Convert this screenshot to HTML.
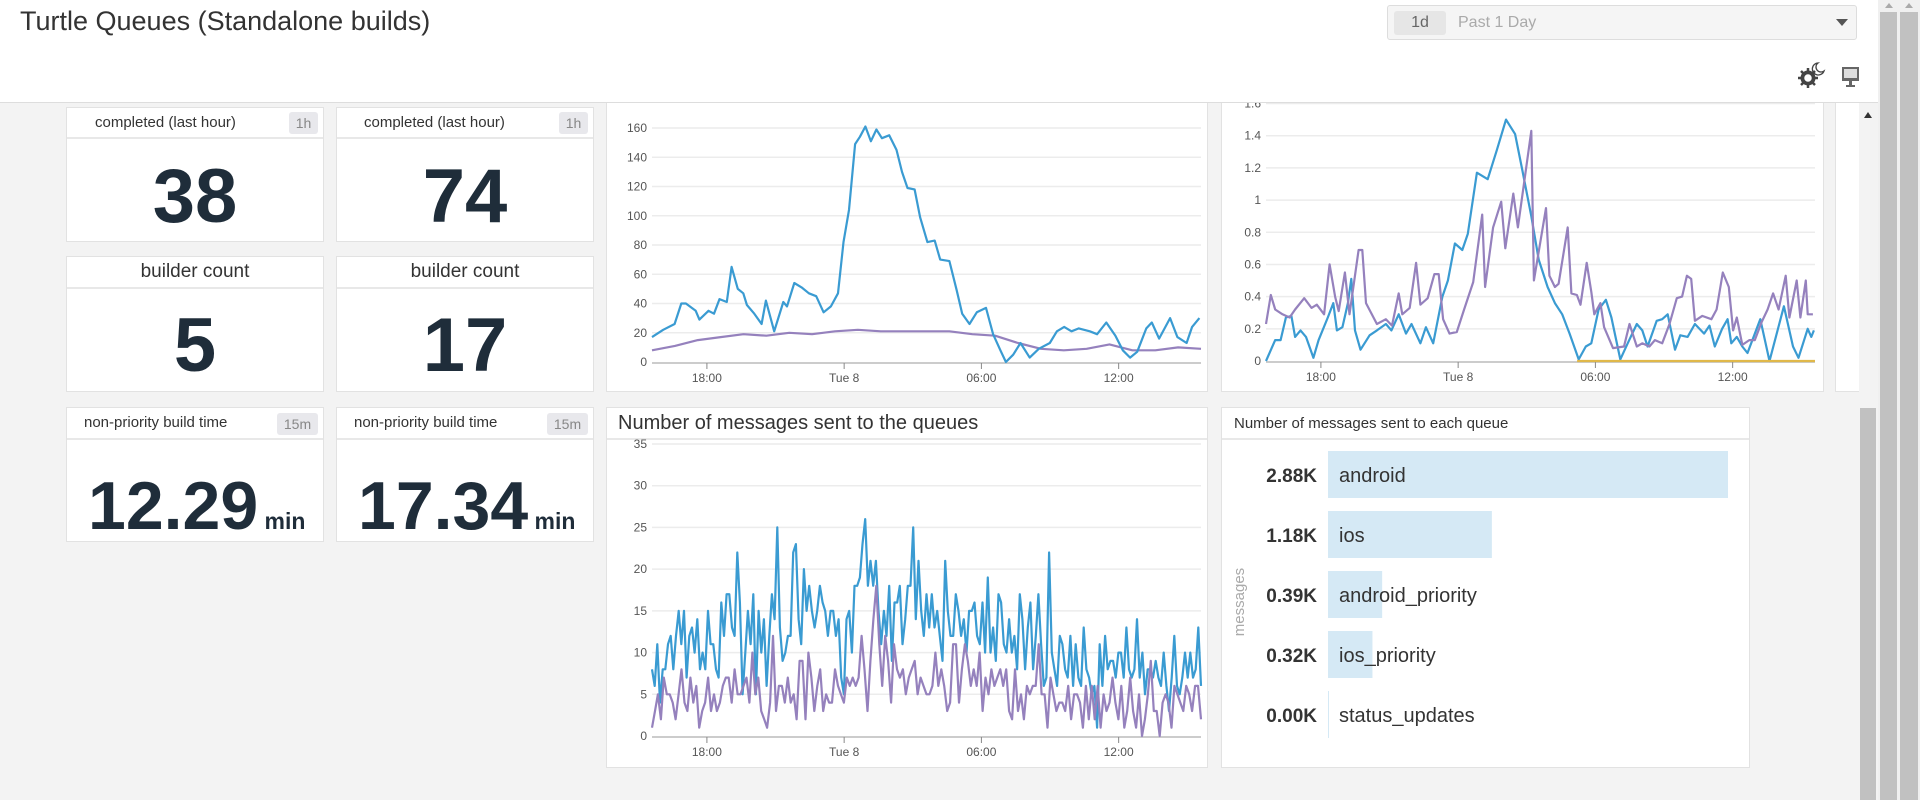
<!DOCTYPE html>
<html><head><meta charset="utf-8"><style>
*{box-sizing:border-box;margin:0;padding:0}
body{width:1920px;height:800px;overflow:hidden;background:#f3f3f3;font-family:"Liberation Sans",sans-serif;position:relative;color:#333}
.abs{position:absolute}
#hdr{left:0;top:0;width:1878px;height:103px;background:#fff;border-bottom:1px solid #ddd;z-index:5}
.card{position:absolute;background:#fff;border:1px solid #e2e2e2}
.chd{position:absolute;left:0;right:0;top:0;border-bottom:2px solid #e8e8e8;color:#333}
.badge{position:absolute;background:#e8e8ec;color:#888;border-radius:3px;font-size:14px;text-align:center}
.val{position:absolute;left:0;right:0;text-align:center;font-weight:bold;color:#1f2d3a}
</style></head><body>
<div id="hdr" class="abs">
  <div class="abs" style="left:20px;top:6px;font-size:27px;color:#333">Turtle Queues (Standalone builds)</div>
  <div class="abs" style="left:1387px;top:5px;width:470px;height:35px;background:#f5f5f5;border:1px solid #ddd;border-radius:3px">
    <div class="abs" style="left:6px;top:5px;width:52px;height:24px;background:#e6e6e6;border-radius:3px;color:#666;font-size:16px;text-align:center;line-height:24px">1d</div>
    <div class="abs" style="left:70px;top:8px;color:#aaa;font-size:16px">Past 1 Day</div>
    <div class="abs" style="left:448px;top:13px;width:0;height:0;border-left:6px solid transparent;border-right:6px solid transparent;border-top:7px solid #555"></div>
  </div>
  <svg class="abs" style="left:1796px;top:60px" width="30" height="30">
    <circle cx="12" cy="18" r="6" fill="none" stroke="#444" stroke-width="3"/>
    <g stroke="#444" stroke-width="2.5"><line x1="12" y1="8" x2="12" y2="28"/><line x1="2" y1="18" x2="22" y2="18"/><line x1="5" y1="11" x2="19" y2="25"/><line x1="19" y1="11" x2="5" y2="25"/></g>
    <circle cx="12" cy="18" r="5" fill="#fff"/><circle cx="12" cy="18" r="5" fill="none" stroke="#444" stroke-width="2.5"/>
    <path d="M22 3 A6 6 0 1 0 28 11 A5 5 0 0 1 22 3Z" fill="none" stroke="#444" stroke-width="1.3"/>
  </svg>
  <svg class="abs" style="left:1840px;top:66px" width="22" height="22">
    <rect x="2" y="1" width="17" height="14" fill="#666"/><rect x="4" y="3" width="13" height="9" fill="#ddd"/><rect x="9" y="15" width="3" height="4" fill="#666"/><rect x="6" y="19" width="9" height="2" fill="#666"/>
  </svg>
</div>

<!-- stat cards -->
<div class="card" style="left:66px;top:107px;width:258px;height:135px">
  <div class="chd" style="height:31px;font-size:15px;line-height:29px;padding-left:28px">completed (last hour)</div>
  <div class="badge" style="left:222px;top:4px;width:29px;height:22px;line-height:22px">1h</div>
  <div class="val" style="top:44px;font-size:76px;line-height:90px">38</div>
</div>
<div class="card" style="left:336px;top:107px;width:258px;height:135px">
  <div class="chd" style="height:31px;font-size:15px;line-height:29px;padding-left:27px">completed (last hour)</div>
  <div class="badge" style="left:222px;top:4px;width:29px;height:22px;line-height:22px">1h</div>
  <div class="val" style="top:44px;font-size:76px;line-height:90px">74</div>
</div>
<div class="card" style="left:66px;top:256px;width:258px;height:136px">
  <div class="chd" style="height:32px;font-size:19px;line-height:30px;text-align:center">builder count</div>
  <div class="val" style="top:44px;font-size:76px;line-height:90px">5</div>
</div>
<div class="card" style="left:336px;top:256px;width:258px;height:136px">
  <div class="chd" style="height:32px;font-size:19px;line-height:30px;text-align:center">builder count</div>
  <div class="val" style="top:44px;font-size:76px;line-height:90px">17</div>
</div>
<div class="card" style="left:66px;top:407px;width:258px;height:135px">
  <div class="chd" style="height:32px;font-size:15px;line-height:30px;padding-left:17px">non-priority build time</div>
  <div class="badge" style="left:210px;top:5px;width:41px;height:22px;line-height:22px">15m</div>
  <div class="val" style="top:58px;font-size:68px;line-height:80px;text-align:left;left:21px">12.29<span style="font-size:23px"> min</span></div>
</div>
<div class="card" style="left:336px;top:407px;width:258px;height:135px">
  <div class="chd" style="height:32px;font-size:15px;line-height:30px;padding-left:17px">non-priority build time</div>
  <div class="badge" style="left:210px;top:5px;width:41px;height:22px;line-height:22px">15m</div>
  <div class="val" style="top:58px;font-size:68px;line-height:80px;text-align:left;left:21px">17.34<span style="font-size:23px"> min</span></div>
</div>

<div class="card" style="left:606px;top:100px;width:602px;height:292px"></div>
<div class="card" style="left:1221px;top:100px;width:603px;height:292px"></div>
<div class="card" style="left:1835px;top:100px;width:40px;height:292px"></div>
<div class="card" style="left:606px;top:407px;width:602px;height:361px">
  <div class="chd" style="height:32px;font-size:20px;line-height:31px;padding-left:11px">Number of messages sent to the queues</div>
</div>
<div class="card" style="left:1221px;top:407px;width:529px;height:361px">
  <div class="chd" style="height:32px;font-size:15px;line-height:31px;padding-left:12px">Number of messages sent to each queue</div>
</div>

<svg id="charts" class="abs" style="left:0;top:0;z-index:2" width="1920" height="800"></svg>

<!-- scrollbars -->
<div class="abs" style="left:1859px;top:103px;width:19px;height:697px;background:#f3f3f3;z-index:6">
  <div class="abs" style="left:5px;top:9px;width:0;height:0;border-left:4px solid transparent;border-right:4px solid transparent;border-bottom:6px solid #333"></div>
  <div class="abs" style="left:1px;top:305px;width:16px;height:392px;background:#c1c1c1"></div>
</div>
<div class="abs" style="left:1878px;top:0;width:42px;height:800px;background:#f0f0f0;z-index:6">
  <div class="abs" style="left:2px;top:12px;width:17px;height:788px;background:#c1c1c1"></div>
  <div class="abs" style="left:22px;top:12px;width:18px;height:788px;background:#c1c1c1"></div>
  <div class="abs" style="left:7px;top:3px;border-left:4px solid transparent;border-right:4px solid transparent;border-bottom:5px solid #aaa"></div>
  <div class="abs" style="left:27px;top:3px;border-left:4px solid transparent;border-right:4px solid transparent;border-bottom:5px solid #aaa"></div>
</div>

<script>
// ---- chart 1: queue length ----
const c1BlueHours=[0,.49,.99,1.28,1.48,1.91,2.07,2.47,2.71,2.95,3.27,3.48,3.75,3.99,4.15,4.47,4.79,4.98,5.34,5.74,5.9,6.22,6.54,6.86,7.18,7.5,7.82,8.13,8.37,8.61,8.88,9.09,9.33,9.57,9.81,10.05,10.37,10.69,10.93,11.17,11.48,11.72,12.04,12.36,12.6,13.0,13.32,13.56,13.88,14.2,14.6,14.91,15.23,15.47,15.79,16.11,16.51,16.91,17.39,17.7,18.02,18.34,18.66,19.14,19.46,19.86,20.26,20.58,20.9,21.21,21.61,21.85,22.17,22.65,22.97,23.37,23.61,23.93];
const c1BlueValues=[17,22,26,40,40,35,29,35,33,43,41,65,50,47,39,33,26,42,21,41,38,54,51,47,45,34,38,47,82,104,149,154,161,151,159,153,155,145,130,119,118,99,82,83,70,69,49,33,26,34,37,19,8,0,5,13,3,9,13,21,24,21,23,21,19,27,18,8,3,7,23,27,16,30,17,13,24,30];
const c1PurpleValues=[8,11,15,17,19,18,20,19,21,22,21,21,21,21,19,18,13,9,8,9,12,8,8,10,9];
const c1YTicks=[0,20,40,60,80,100,120,140,160];
// ---- chart 2: wait time ----
const c2BlueHours=[0,.4,.64,.87,1.11,1.27,1.51,1.75,2.07,2.3,2.7,2.94,3.1,3.34,3.58,3.73,3.89,4.13,4.53,4.85,5.24,5.48,5.8,6.12,6.36,6.75,6.99,7.31,7.71,7.95,8.26,8.58,8.82,9.22,9.69,10.09,10.49,10.89,11.2,11.6,11.92,12.31,12.63,12.95,13.27,13.67,13.98,14.22,14.54,14.86,15.1,15.49,15.81,16.21,16.45,16.68,17.08,17.32,17.56,17.88,18.11,18.43,18.75,19.15,19.39,19.62,19.94,20.18,20.34,20.58,20.82,21.05,21.61,22.01,22.64,23.04,23.28,23.68,23.84,23.95];
const c2BlueValues=[0,.13,.13,.27,.28,.15,.19,.15,.02,.13,.27,.36,.19,.21,.36,.51,.19,.07,.16,.19,.23,.19,.29,.17,.23,.11,.21,.11,.40,.50,.73,.69,.79,1.17,1.13,1.31,1.50,1.41,1.19,.90,.63,.46,.36,.29,.17,.01,.09,.11,.32,.38,.27,.01,.11,.23,.19,.09,.25,.26,.29,.07,.16,.15,.23,.17,.22,.09,.20,.26,.11,.15,.09,.05,.26,0,.34,.09,.02,.20,.15,.19];
const c2PurpleHours=[0,.21,.4,.72,1.03,1.27,1.67,1.99,2.22,2.54,2.78,3.02,3.18,3.45,3.65,4.05,4.21,4.37,4.85,5.24,5.51,5.8,5.96,6.28,6.56,6.75,7.07,7.36,7.55,7.74,8.02,8.34,8.66,9.06,9.45,9.58,9.93,10.28,10.46,10.81,11.01,11.6,11.71,12.24,12.39,12.63,12.79,13.19,13.35,13.59,13.75,14.02,14.22,14.35,14.62,14.78,15.17,15.65,15.89,16.21,16.45,16.76,17.0,17.32,17.64,17.96,18.19,18.4,18.59,18.75,19.07,19.47,19.7,19.97,20.23,20.42,20.58,20.82,21.13,21.37,21.66,21.93,22.17,22.41,22.72,22.88,23.2,23.36,23.6,23.68,23.91];
const c2PurpleValues=[.23,.41,.32,.29,.27,.32,.39,.33,.35,.29,.60,.40,.31,.55,.29,.69,.69,.36,.23,.26,.22,.42,.29,.33,.61,.35,.39,.54,.54,.26,.17,.18,.32,.49,.91,.46,.83,.99,.70,1.04,.83,1.43,.50,.95,.53,.46,.48,.83,.42,.41,.35,.61,.43,.29,.36,.21,.08,.09,.23,.09,.11,.09,.13,.11,.23,.39,.40,.53,.51,.25,.28,.26,.32,.55,.46,.19,.27,.10,.13,.13,.24,.32,.42,.32,.53,.27,.50,.27,.50,.29,.29];
const c2YellowHours=[13.6,24];
const c2YellowValues=[0,0];
const c2YTicks=[0,.2,.4,.6,.8,1,1.2,1.4,1.6];
const c2YTickLabels=['0','0.2','0.4','0.6','0.8','1','1.2','1.4','1.6'];
// ---- chart 3: messages ----
const c3BlueValues=[8,6,11,4,8,8,11,12,8,12,15,11,15,7,12,13,10,14,8,10,8,15,11,11,8,7,16,12,17,17,13,12,22,16,5,10,15,11,17,5,15,10,14,6,12,17,14,25,13,9,10,12,12,22,23,14,11,20,15,18,15,13,15,18,16,15,12,15,15,12,14,7,5,14,15,10,18,18,19,23,26,18,21,18,21,15,11,15,12,18,9,16,16,18,11,14,18,18,25,14,21,15,12,17,13,17,13,15,12,9,21,15,12,12,17,
15,12,14,10,15,15,16,12,11,16,10,19,10,13,9,17,16,11,10,14,10,12,8,17,14,8,13,16,8,12,17,11,6,7,22,10,8,6,12,11,8,7,12,6,11,7,6,13,8,7,5,6,1,11,6,12,8,9,9,7,10,10,7,13,8,7,8,14,7,10,5,8,8,7,9,7,6,10,6,3,7,12,6,5,7,10,7,10,7,8,13,6];
const c3PurpleValues=[1,3,5,2,7,5,5,4,2,5,8,4,3,7,4,6,1,3,4,7,3,5,3,4,6,7,7,4,8,5,5,6,7,4,10,5,7,3,2,1,4,12,3,6,6,4,7,4,5,2,9,9,2,10,7,3,6,8,3,5,4,4,8,6,5,4,7,6,7,6,7,12,8,3,9,14,18,11,6,12,9,4,11,8,7,8,5,7,8,9,5,7,6,5,5,6,10,6,8,6,3,4,11,
11,4,8,11,9,6,8,6,10,3,7,5,8,6,7,8,6,8,3,2,8,3,5,2,6,5,6,6,11,5,5,1,7,5,3,4,4,3,6,2,5,5,4,1,6,2,6,2,6,1,5,3,4,7,4,2,6,1,3,7,3,1,5,0,2,5,9,3,3,0,4,5,4,1,6,5,4,3,6,5,3,6,6,2];
const c3YTicks=[0,5,10,15,20,25,30,35];
// ---- shared x axis ----
const timeTickHours=[2.4,8.4,14.4,20.4];
const timeTickLabels=['18:00','Tue 8','06:00','12:00'];
// ---- bar chart ----
const queueNames=['android','ios','android_priority','ios_priority','status_updates'];
const queueValues=[2.88,1.18,0.39,0.32,0.00];
const queueLabels=['2.88K','1.18K','0.39K','0.32K','0.00K'];

const NS='http://www.w3.org/2000/svg';
const root=document.getElementById('charts');
function mk(tag,attrs,parent){const e=document.createElementNS(NS,tag);for(const k in attrs)e.setAttribute(k,attrs[k]);(parent||root).appendChild(e);return e;}
const BLUE='#3a9bd2',PURPLE='#9581bd',YELLOW='#e0b84a';

function timeChart(cfg){
  const g=mk('g',{});
  
  
  const xs=h=>cfg.x0+h/24*(cfg.x1-cfg.x0);
  const ys=v=>cfg.y0-v*cfg.ppu;
  cfg.yTicks.forEach((t,i)=>{
    const y=ys(t);
    if(t>0){const gl=mk('line',{x1:cfg.x0,x2:cfg.x1,y1:y,y2:y,stroke:'#ececec','stroke-width':1.5},g);
      
      }
    const tx=mk('text',{x:cfg.x0-5,y:y+4,'text-anchor':'end','font-size':12,fill:'#555','font-family':'Liberation Sans, sans-serif'},g);
    tx.textContent=cfg.yLabels?cfg.yLabels[i]:String(t);
    
    
  });
  const ax=mk('line',{x1:cfg.x0,x2:cfg.x1,y1:cfg.y0+1,y2:cfg.y0+1,stroke:'#ccc','stroke-width':2},g);
  
  
  timeTickHours.forEach((h,i)=>{
    const x=xs(h);
    mk('line',{x1:x,x2:x,y1:cfg.y0+1,y2:cfg.y0+7,stroke:'#888','stroke-width':1},g);
    const tx=mk('text',{x:x,y:cfg.y0+20,'text-anchor':'middle','font-size':12,fill:'#555','font-family':'Liberation Sans, sans-serif'},g);
    tx.textContent=timeTickLabels[i];
    
    
  });
  cfg.series.forEach(s=>{
    const n=s.values.length;
    const pts=s.values.map((v,i)=>{const h=s.hours?s.hours[i]:i/(n-1)*24;return xs(h).toFixed(1)+','+ys(v).toFixed(1);}).join(' ');
    const p=mk('polyline',{points:pts,fill:'none',stroke:s.color,'stroke-width':2.2,'stroke-linejoin':'round'},g);
    
    
  });
}
timeChart({name:'queue-length-chart',x0:652,x1:1201,y0:362,ppu:(362-128)/160,yTicks:c1YTicks,
  series:[{name:'series-purple',values:c1PurpleValues,color:PURPLE},{name:'series-blue',hours:c1BlueHours,values:c1BlueValues,color:BLUE}]});
timeChart({name:'wait-time-chart',x0:1266,x1:1815,y0:361,ppu:(361-135.7)/1.4,yTicks:c2YTicks,yLabels:c2YTickLabels,
  series:[{name:'series-blue',hours:c2BlueHours,values:c2BlueValues,color:BLUE},{name:'series-purple',hours:c2PurpleHours,values:c2PurpleValues,color:PURPLE},{name:'series-yellow',hours:c2YellowHours,values:c2YellowValues,color:YELLOW}]});
timeChart({name:'messages-chart',x0:652,x1:1201,y0:736,ppu:(736-444)/35,yTicks:c3YTicks,
  series:[{name:'series-blue',values:c3BlueValues,color:BLUE},{name:'series-purple',values:c3PurpleValues,color:PURPLE}]});

// bar chart
(function(){
  const g=mk('g',{});
  
  
  const bx=1328,scale=400/2.88,top=451,pitch=60,bh=47;
  queueNames.forEach((nm,i)=>{
    const y=top+i*pitch;
    const w=Math.max(queueValues[i]*scale,1);
    const r=mk('rect',{x:bx,y:y,width:w,height:bh,fill:'#d5e9f5'},g);
    
    
    const v=mk('text',{x:1317,y:y+31,'text-anchor':'end','font-size':19,'font-weight':'bold',fill:'#333','font-family':'Liberation Sans, sans-serif'},g);
    v.textContent=queueLabels[i];
    
    
    const t=mk('text',{x:1339,y:y+31,'font-size':20,fill:'#333','font-family':'Liberation Sans, sans-serif'},g);
    t.textContent=nm;
    
    
  });
  const at=mk('text',{x:0,y:0,transform:'translate(1244,602) rotate(-90)','text-anchor':'middle','font-size':15,fill:'#aaa','font-family':'Liberation Sans, sans-serif'},g);
  at.textContent='messages';
  
  
})();
</script>
</body></html>
